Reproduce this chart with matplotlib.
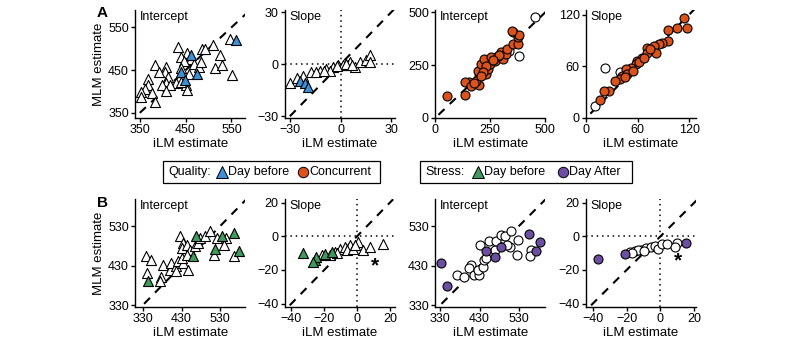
import matplotlib
matplotlib.use("Agg")
import matplotlib.pyplot as plt
from matplotlib.lines import Line2D
from matplotlib.patches import Rectangle

plt.rcParams['font.family'] = ['Liberation Sans', 'DejaVu Sans']

# ---- data -----------------------------------------------------------------
# A, quality: intercept
a1_open_x = [433, 486, 493, 509, 524, 547, 454, 440, 462, 447, 469, 479, 440, 515, 529, 552, 384, 408, 405,
             391, 369, 412, 430, 408, 398, 415, 369, 362, 376, 352, 352, 408, 451, 454, 384, 440, 458, 483]
a1_open_y = [504, 500, 500, 508, 485, 523, 489, 481, 477, 471, 465, 458, 454, 454, 461, 438, 461, 458, 446,
             446, 430, 434, 421, 421, 415, 415, 415, 407, 396, 398, 386, 401, 415, 403, 376, 423, 442, 469]
a1_fill_x = [559, 462, 440, 474, 449]
a1_fill_y = [520, 485, 446, 442, 427]

# A, quality: slope
a2_open_x = [-30, -22.2, -26, -17.3, -12.4, -8.4, -4.5, -1.6, 1.4, 4.3, 5.3, 8.2, 11.2, 15.1, 17.1, 17.1,
             -6.5, -14.3, -10, -2, 3, 7]
a2_open_y = [-10.8, -6.7, -7.8, -4.7, -3.7, -2.6, -1.7, -0.6, -0.6, -0.6, 1.4, -1.7, 1.4, 2.5, 5.5, 1.4,
             -3.7, -4.7, -4.2, -1.2, 0.3, -0.5]
a2_fill_x = [-24, -21, -19.2]
a2_fill_y = [-9.8, -10.8, -12.9]

# A, concurrent: intercept
a3_fill_x = [54, 134, 154, 136, 162, 201, 201, 193, 208, 231, 239, 247, 247, 270, 278, 301, 309, 324, 327,
             355, 378, 378, 355, 383, 224, 231, 255, 285, 215, 185, 175, 210, 347, 290, 262]
a3_fill_y = [103, 108, 172, 172, 151, 154, 199, 223, 258, 207, 231, 255, 279, 268, 287, 311, 279, 303, 327,
             351, 351, 383, 407, 391, 279, 247, 287, 295, 220, 175, 165, 200, 413, 300, 275]
a3_open_x = [455, 383, 336]
a3_open_y = [476, 292, 319]

# A, concurrent: slope
a4_fill_x = [114.5, 117.6, 105.9, 94.9, 94.9, 89, 85, 79.2, 81.2, 71.4, 71.4, 65.5, 59.6, 57.6, 51.8, 47.1,
             42, 47.8, 40, 34.1, 26.3, 20.4, 16.5, 62, 68, 75, 55, 45]
a4_fill_y = [116.5, 105, 104, 102, 89, 87.4, 85.5, 83.6, 75.8, 81.6, 75.8, 69.9, 66, 62.2, 58.3, 56.3,
             48.6, 50.5, 44.7, 42.8, 31.1, 31.4, 21.3, 65, 70, 80, 55, 47]
a4_open_x = [22.4, 40, 10.6]
a4_open_y = [57.5, 53.6, 14]

# B, stress day before: intercept
b1_open_x = [337, 352, 340, 378, 382, 400, 404, 417, 422, 435, 430, 417, 448, 426, 435, 430, 444, 452, 444,
             465, 474, 478, 491, 505, 522, 544, 540, 513, 566, 374]
b1_open_y = [453, 445, 411, 402, 432, 419, 436, 428, 441, 436, 449, 415, 419, 504, 487, 475, 483, 470, 458,
             479, 487, 500, 504, 517, 500, 500, 483, 458, 453, 390]
b1_fill_x = [343, 468, 460, 516, 535, 566, 579]
b1_fill_y = [390, 504, 455, 473, 504, 513, 466]

# B, stress day before: slope
b2_open_x = [-16.6, -13.5, -10.5, -7.4, -4.4, 0.7, 3.7, 7.8, 15.9, -6.4, -2.3, -21.6, -12, -1]
b2_open_y = [-11.3, -9.3, -7.3, -6.6, -5.2, -3.3, -8.2, -6.2, -4.6, -8.2, -7.3, -11.3, -10, -5]
b2_fill_x = [-33.2, -25.7, -24.7, -19.6, -26.7, -15.5]
b2_fill_y = [-9.9, -14.3, -12.3, -10.3, -15.3, -9.3]
b2_star = (10.8, -17.3)

# B, stress day after: intercept
b3_open_x = [373, 390, 407, 403, 416, 429, 425, 438, 442, 455, 468, 455, 472, 485, 494, 511, 507, 524, 529,
             561, 559, 432, 446, 499]
b3_open_y = [406.6, 402, 432, 423, 406, 406, 419, 427, 444, 457, 470, 491, 491, 508, 504, 517, 478, 457, 495,
             470, 455, 481, 448, 483]
b3_fill_x = [331.7, 347, 446.5, 468, 484, 557, 584.6, 573]
b3_fill_y = [436.5, 377, 468, 452, 478, 509, 489, 466]

# B, stress day after: slope
b4_open_x = [-18.2, -15.2, -11.3, -8.3, -5.3, -3.3, -1.3, 0.7, 3.6, 9.6, 8.6, -13.2, -17, -10]
b4_open_y = [-9.3, -8.6, -8.2, -7.0, -6.2, -5.6, -7.6, -4.6, -4.3, -3.7, -6.6, -8.2, -10, -9]
b4_fill_x = [-21.2, 14.9, -37]
b4_fill_y = [-10.7, -3.9, -13.5]
b4_star = (10.2, -14.7)

BLUE = '#3f8fd8'
ORANGE = '#d9531a'
GREEN = '#3f9a5c'
PURPLE = '#6c4fa3'

#------------------------------------------------------------------------------
def panel(ax, title, lims, ticks, identity, open_xy, fill_xy, marker, color,
          cross=False, star=None):
    """ one scatter panel: identity line, open + filled markers """
    ax.plot(identity, identity, color='black', lw=1.5, ls=(0, (4, 3.5)), zorder=1)
    if cross:
        ax.axhline(0, color='black', lw=1.1, ls=(0, (1, 2.5)), zorder=1)
        ax.axvline(0, color='black', lw=1.1, ls=(0, (1, 2.5)), zorder=1)
    size = 52 if marker == '^' else 42
    ax.scatter(open_xy[0], open_xy[1], s=size, marker=marker, facecolor='white',
               edgecolor='black', lw=0.8, zorder=3, clip_on=False)
    ax.scatter(fill_xy[0], fill_xy[1], s=size, marker=marker, facecolor=color,
               edgecolor='black', lw=0.8, zorder=4, clip_on=False)
    if star is not None:
        ax.text(star[0], star[1], '*', fontsize=15, fontweight='bold',
                ha='center', va='center')
    ax.set_xlim(lims[0])
    ax.set_ylim(lims[1])
    ax.set_xticks(ticks[0])
    ax.set_yticks(ticks[1])
    ax.set_xticklabels([str(t).replace('-', '\u2212') for t in ticks[0]])
    ax.set_yticklabels([str(t).replace('-', '\u2212') for t in ticks[1]])
    for s in ['top', 'right']:
        ax.spines[s].set_visible(False)
    for s in ['left', 'bottom']:
        ax.spines[s].set_linewidth(1.0)
    ax.tick_params(direction='out', length=3, width=1.0, labelsize=9, pad=1.5)
    ax.text(0.04, 0.99, title, transform=ax.transAxes, fontsize=9,
            ha='left', va='top')
    ax.set_xlabel('iLM estimate', fontsize=9.5, labelpad=1)


fig = plt.figure(figsize=(8, 3.43), dpi=100)
lefts = [0.169, 0.356, 0.544, 0.7325]
w, h = 0.1375, 0.314
axA = [fig.add_axes([l, 0.656, w, h]) for l in lefts]
axB = [fig.add_axes([l, 0.105, w, h]) for l in lefts]

panel(axA[0], 'Intercept', [(340, 580), (338, 590)], [[350, 450, 550], [350, 450, 550]],
      [350, 590], (a1_open_x, a1_open_y), (a1_fill_x, a1_fill_y), '^', BLUE)
panel(axA[1], 'Slope', [(-33, 32), (-31, 31)], [[-30, 0, 30], [-30, 0, 30]],
      [-30, 33], (a2_open_x, a2_open_y), (a2_fill_x, a2_fill_y), '^', BLUE, cross=True)
panel(axA[2], 'Intercept', [(0, 500), (0, 510)], [[0, 250, 500], [0, 250, 500]],
      [15, 510], (a3_open_x, a3_open_y), (a3_fill_x, a3_fill_y), 'o', ORANGE)
panel(axA[3], 'Slope', [(0, 128), (0, 125)], [[0, 60, 120], [0, 60, 120]],
      [5, 128], (a4_open_x, a4_open_y), (a4_fill_x, a4_fill_y), 'o', ORANGE)

panel(axB[0], 'Intercept', [(310, 595), (325, 598)], [[330, 430, 530], [330, 430, 530]],
      [333, 598], (b1_open_x, b1_open_y), (b1_fill_x, b1_fill_y), '^', GREEN)
panel(axB[1], 'Slope', [(-44, 23), (-42, 22)], [[-40, -20, 0, 20], [-40, -20, 0, 20]],
      [-41, 22], (b2_open_x, b2_open_y), (b2_fill_x, b2_fill_y), '^', GREEN,
      cross=True, star=b2_star)
panel(axB[2], 'Intercept', [(317, 597), (325, 598)], [[330, 430, 530], [330, 430, 530]],
      [333, 598], (b3_open_x, b3_open_y), (b3_fill_x, b3_fill_y), 'o', PURPLE)
panel(axB[3], 'Slope', [(-44, 21), (-42, 22)], [[-40, -20, 0, 20], [-40, -20, 0, 20]],
      [-41, 22], (b4_open_x, b4_open_y), (b4_fill_x, b4_fill_y), 'o', PURPLE,
      cross=True, star=b4_star)

axA[0].set_ylabel('MLM estimate', fontsize=9.5, labelpad=2)
axB[0].set_ylabel('MLM estimate', fontsize=9.5, labelpad=2)

fig.text(0.128, 0.962, 'A', fontsize=11, fontweight='bold', ha='center', va='center')
fig.text(0.128, 0.408, 'B', fontsize=11, fontweight='bold', ha='center', va='center')

#------------------------------------------------------------------------------
# legend boxes, laid out by hand in pixel units of the 800x343 figure
def legend_box(x0, x1, label, entries):
    """ framed one-line key: label, then (marker, colour, text, marker_x) """
    W, H = 800.0, 343.0
    ytop, ybot = 161, 183
    yc = 1 - (ytop + ybot) / 2 / H
    fig.add_artist(Rectangle((x0 / W, 1 - ybot / H), (x1 - x0) / W, (ybot - ytop) / H,
                             transform=fig.transFigure, fill=False, ec='black', lw=0.9))
    fig.text((x0 + 5) / W, yc, label, fontsize=9, ha='left', va='center')
    for mk, col, txt, mx in entries:
        ms = 8 if mk == '^' else 7.5
        fig.add_artist(Line2D([mx / W], [yc], marker=mk, markersize=ms, lw=0,
                              markerfacecolor=col, markeredgecolor='black',
                              markeredgewidth=0.7, transform=fig.transFigure))
        fig.text((mx + 6) / W, yc, txt, fontsize=9, ha='left', va='center')

legend_box(163, 380, 'Quality:', [('^', BLUE, 'Day before', 222), ('o', ORANGE, 'Concurrent', 303)])
legend_box(420, 632, 'Stress:', [('^', GREEN, 'Day before', 478), ('o', PURPLE, 'Day After', 563)])

fig.savefig('out.png', dpi=100)
